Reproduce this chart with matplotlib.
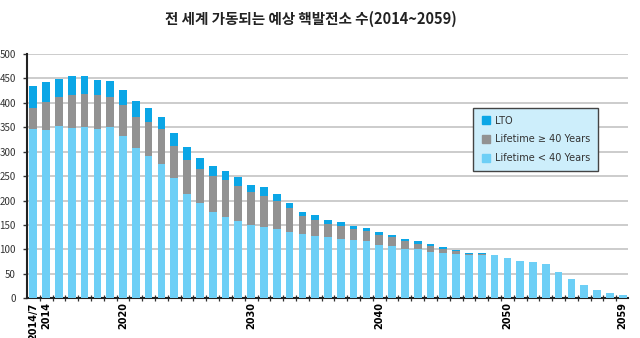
import numpy as np
import matplotlib
matplotlib.use('Agg')
import matplotlib.pyplot as plt
from matplotlib.lines import Line2D

plt.rcParams['font.family'] = ['Noto Sans CJK KR', 'DejaVu Sans']

# Reactor counts per year: first bar is mid-2014, then 2014..2059
years = ['2014/7'] + [str(y) for y in range(2014, 2060)]
under40 = [346, 345, 353, 348, 351, 347, 351, 333, 308, 291, 274, 246, 214, 194, 176, 167,
           159, 149, 145, 141, 135, 132, 128, 125, 122, 120, 116, 109, 106, 100, 100, 95,
           93, 91, 89, 89, 88, 82, 76, 74, 69, 54, 39, 27, 16, 10, 7]
over40 = [44, 56, 59, 68, 67, 69, 62, 62, 63, 69, 72, 66, 68, 70, 74, 74,
          70, 69, 65, 57, 49, 36, 33, 27, 26, 21, 21, 20, 19, 16, 11, 11,
          8, 6, 2, 2, 0, 0, 0, 0, 0, 0, 0, 0, 0, 0, 0]
lto = [45, 41, 37, 39, 37, 31, 31, 32, 32, 30, 26, 26, 27, 23, 21, 19,
       19, 14, 17, 16, 11, 9, 10, 8, 7, 6, 6, 6, 5, 5, 5, 5,
       3, 2, 2, 2, 0, 0, 0, 0, 0, 0, 0, 0, 0, 0, 0]
shown_labels = {'2014/7', '2014', '2020', '2030', '2040', '2050', '2059'}

c_under = '#6dcff6'
c_over = '#929292'
c_lto = '#0ba6e6'

fig = plt.figure(figsize=(6.4, 3.38), dpi=100)
ax = fig.add_axes([0.042, 0.118, 0.94, 0.722])

x = np.arange(len(years))
u = np.array(under40)
o = np.array(over40)
l = np.array(lto)
w = 0.6
ax.bar(x, u, w, color=c_under, zorder=3)
ax.bar(x, o, w, bottom=u, color=c_over, zorder=3)
ax.bar(x, l, w, bottom=u + o, color=c_lto, zorder=3)

ax.set_ylim(0, 500)
ax.set_xlim(-0.5, 46.45)
ax.set_yticks(range(0, 501, 50))
ax.yaxis.grid(True, color='#c4c4c4', linewidth=1.2, zorder=0)
ax.tick_params(axis='y', labelsize=7, colors='#333333', length=3, width=1, pad=5)

ax.set_xticks([i for i, y in enumerate(years) if y in shown_labels])
ax.set_xticklabels([y for y in years if y in shown_labels], rotation=90,
                   fontsize=7, fontweight='bold', family='DejaVu Sans')
ax.set_xticks(x[:-1] + 0.5, minor=True)
ax.tick_params(axis='x', which='major', length=0, pad=3)
ax.tick_params(axis='x', which='minor', direction='inout', length=4, width=0.9, color='#333333')

for side in ['top', 'right']:
    ax.spines[side].set_visible(False)
ax.spines['left'].set_linewidth(1.5)
ax.spines['bottom'].set_linewidth(1.5)
ax.spines['left'].set_color('#222222')
ax.spines['bottom'].set_color('#222222')

handles = [
    Line2D([], [], marker='s', linestyle='', markersize=6, color=c_lto, label='LTO'),
    Line2D([], [], marker='s', linestyle='', markersize=6, color=c_over, label='Lifetime ≥ 40 Years'),
    Line2D([], [], marker='s', linestyle='', markersize=6, color=c_under, label='Lifetime < 40 Years'),
]
leg = ax.legend(handles=handles, loc='upper left', bbox_to_anchor=(0.734, 0.8),
                frameon=True, fancybox=False, handletextpad=0.4,
                borderpad=0.8, labelspacing=0.9, handlelength=1.0,
                prop={'family': ['DejaVu Sans'], 'size': 7})
leg.get_frame().set_facecolor('#cdeefb')
leg.get_frame().set_edgecolor('#444444')
leg.get_frame().set_linewidth(1.0)
leg.get_frame().set_alpha(1)
for t in leg.get_texts():
    t.set_color('#333333')

fig.text(0.485, 0.945, '전 세계 가동되는 예상 핵발전소 수(2014~2059)', ha='center', va='center',
         fontsize=10.5, fontweight='bold', color='#222222')

fig.savefig('out.png', dpi=100, facecolor='white')
